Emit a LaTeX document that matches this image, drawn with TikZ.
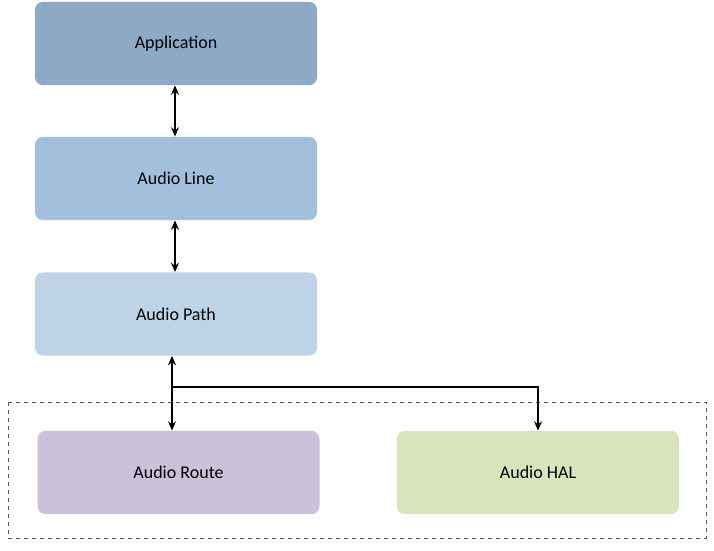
\documentclass[tikz,border=0pt]{standalone}
\usepackage{fontspec}
\setmainfont{Carlito}
\usetikzlibrary{arrows.meta}
\definecolor{cApp}{HTML}{8EA9C6}
\definecolor{cLine}{HTML}{A3BFDB}
\definecolor{cPath}{HTML}{BFD3E7}
\definecolor{cRoute}{HTML}{CCC1DA}
\definecolor{cHal}{HTML}{D8E4BC}
\begin{document}
\begin{tikzpicture}[x=0.75pt,y=-0.75pt,
  box/.style={rounded corners=6pt,draw=none,minimum width=211.5pt,minimum height=62.5pt,font=\fontsize{13.5}{16}\selectfont,inner sep=0pt},
  conn/.style={line width=1.2pt,-{Stealth[length=7pt,width=6pt]}},
  dconn/.style={line width=1.2pt,{Stealth[length=7pt,width=6pt]}-{Stealth[length=7pt,width=6pt]}}]
\useasboundingbox (0,0) rectangle (714,550);
\node[box,fill=cApp] (app) at (176,43.5) {Application};
\node[box,fill=cLine] (line) at (176,178.5) {Audio Line};
\node[box,fill=cPath] (path) at (176,314) {Audio Path};
\node[box,fill=cRoute] (route) at (178.5,472.5) {Audio Route};
\node[box,fill=cHal] (hal) at (538,472.5) {Audio HAL};
\draw[dashed,gray!70!black] (8,402) rectangle (706,538);
\draw[dconn] (app.south -| 175,0) -- (line.north -| 175,0);
\draw[dconn] (line.south -| 175,0) -- (path.north -| 175,0);
\draw[dconn] (path.south -| 172,0) -- (route.north -| 172,0);
\coordinate (j) at (172,387);
\draw[conn] (j) -| (hal.north);
\end{tikzpicture}
\end{document}
